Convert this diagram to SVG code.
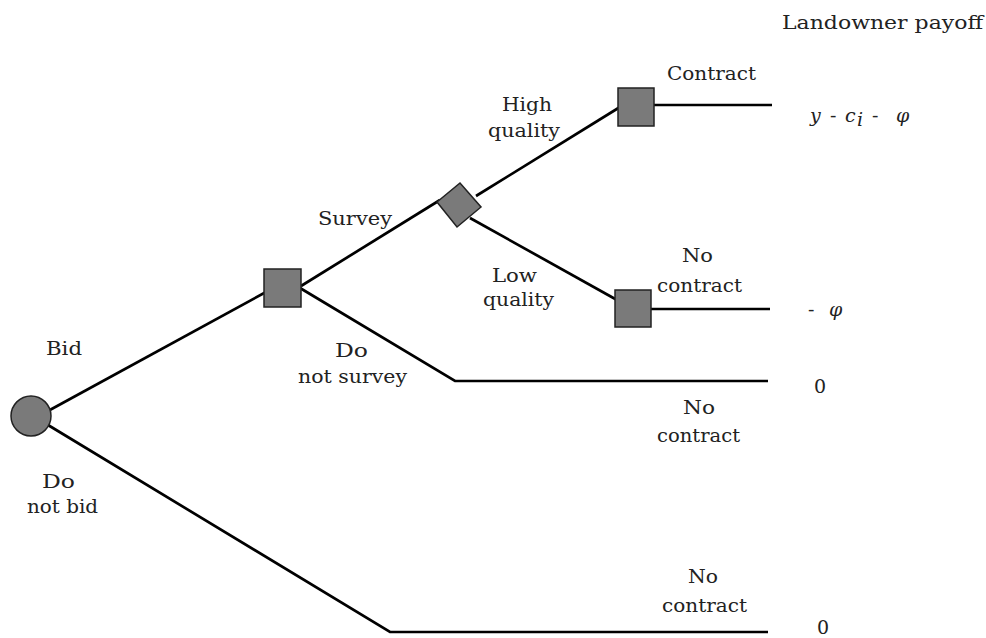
<svg xmlns="http://www.w3.org/2000/svg" width="986" height="638" viewBox="0 0 986 638">
<style>
.ln{fill:none;stroke:#000;stroke-width:2.7;stroke-linejoin:miter}
.nd{fill:#7a7a7a;stroke:#222;stroke-width:1.5}
text{font-family:"DejaVu Serif","Liberation Serif",serif;font-size:19px;fill:#222}
.it{font-style:italic}
</style>
<rect width="986" height="638" fill="#fff"/>
<g id="connectors">
<path class="ln" d="M48,411 L266,292"/>
<path class="ln" d="M301,286 L440,200"/>
<path class="ln" d="M476,196 L620,107"/>
<path class="ln" d="M470,218 L617,300"/>
<path class="ln" d="M300,288 L455,381 L768,381"/>
<path class="ln" d="M654,105 L772,105"/>
<path class="ln" d="M651,309 L770,309"/>
<path class="ln" d="M48,425 L390,632 L768,632"/>
</g>
<g id="root"><circle class="nd" cx="31" cy="416" r="20"/></g>
<g id="survey-decision"><rect class="nd" x="264" y="269" width="37" height="38"/></g>
<g id="quality-chance"><polygon class="nd" points="437,202 460,183 481,207 457,227"/></g>
<g id="contract-high"><rect class="nd" x="618" y="88" width="36" height="38"/></g>
<g id="contract-low"><rect class="nd" x="615" y="290" width="36" height="37"/></g>
<g id="labels">
<text x="782" y="29" textLength="201" lengthAdjust="spacingAndGlyphs">Landowner payoff</text>
<text x="667" y="80" textLength="89" lengthAdjust="spacingAndGlyphs">Contract</text>
<text x="502" y="111" textLength="50" lengthAdjust="spacingAndGlyphs">High</text>
<text x="488" y="137" textLength="72" lengthAdjust="spacingAndGlyphs">quality</text>
<text x="810" y="122" class="it">y</text>
<text x="830" y="122">-</text>
<text x="845" y="122" class="it">c</text>
<text x="857" y="126" class="it" font-size="14">i</text>
<text x="872" y="122">-</text>
<text x="896" y="122" class="it">φ</text>
<text x="318" y="225" textLength="74" lengthAdjust="spacingAndGlyphs">Survey</text>
<text x="682" y="262" textLength="31" lengthAdjust="spacingAndGlyphs">No</text>
<text x="657" y="292" textLength="85" lengthAdjust="spacingAndGlyphs">contract</text>
<text x="492" y="282" textLength="45" lengthAdjust="spacingAndGlyphs">Low</text>
<text x="483" y="306" textLength="71" lengthAdjust="spacingAndGlyphs">quality</text>
<text x="808" y="316">-</text>
<text x="829" y="316" class="it">φ</text>
<text x="46" y="355" textLength="36" lengthAdjust="spacingAndGlyphs">Bid</text>
<text x="335" y="357" textLength="33" lengthAdjust="spacingAndGlyphs">Do</text>
<text x="298" y="383" textLength="109" lengthAdjust="spacingAndGlyphs">not survey</text>
<text x="814" y="393">0</text>
<text x="683" y="414" textLength="32" lengthAdjust="spacingAndGlyphs">No</text>
<text x="657" y="442" textLength="83" lengthAdjust="spacingAndGlyphs">contract</text>
<text x="42" y="488" textLength="33" lengthAdjust="spacingAndGlyphs">Do</text>
<text x="27" y="513" textLength="71" lengthAdjust="spacingAndGlyphs">not bid</text>
<text x="688" y="583" textLength="30" lengthAdjust="spacingAndGlyphs">No</text>
<text x="662" y="612" textLength="85" lengthAdjust="spacingAndGlyphs">contract</text>
<text x="817" y="634" font-size="17">0</text>
</g>
</svg>
